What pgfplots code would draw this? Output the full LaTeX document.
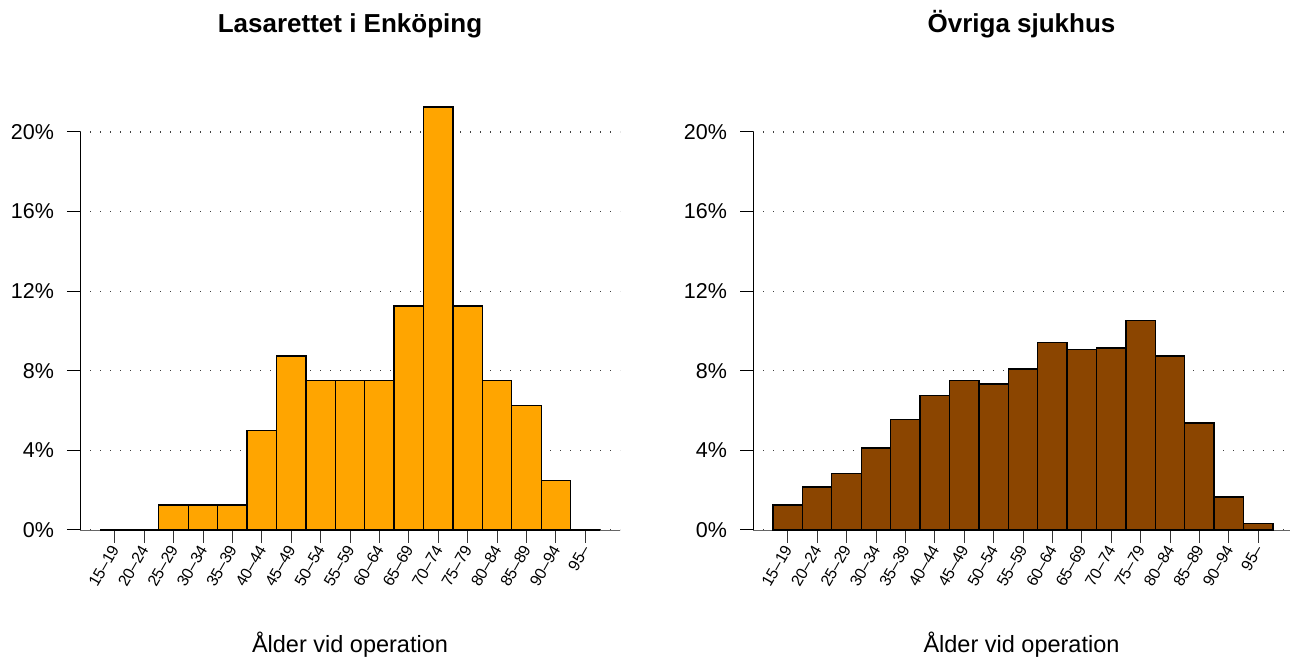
\documentclass[border=0pt]{standalone}
\usepackage{fontspec}
\setmainfont{Liberation Sans}
\usepackage{pgfplots}
\pgfplotsset{compat=1.18}
\definecolor{lorange}{HTML}{FFA500}
\definecolor{dbrown}{HTML}{8B4500}

\pgfplotsset{
 panel/.style={
  scale only axis, height=199pt, ymin=0, ymax=20,
  axis x line*=bottom, axis y line*=left,
  x axis line style={black!60, line width=0.4pt, -},
  y axis line style={black, line width=0.5pt, -},
  ytick={0,4,8,12,16,20},
  yticklabels={0\%,4\%,8\%,12\%,16\%,20\%},
  xtick={0,...,16},
  xticklabels={15–19,20–24,25–29,30–34,35–39,40–44,45–49,50–54,55–59,60–64,65–69,70–74,75–79,80–84,85–89,90–94,95–},
  tick align=outside, major tick length=6.5pt,
  ytick style={black, line width=0.5pt},
  xtick style={black!80, line width=0.4pt},
  yticklabel style={font=\fontsize{10.75}{12}\selectfont, xshift=-3pt},
  xticklabel style={font=\fontsize{8}{9}\selectfont, rotate=60, anchor=east, xshift=2pt, yshift=-1pt},
  ymajorgrids, grid style={black!75, line width=0.6pt, dash pattern=on 0.6pt off 4.4pt},
  clip=false,
  title style={font=\bfseries\fontsize{13}{15}\selectfont, at={(0.5,1)}, anchor=base, yshift=43.5pt},
  xlabel style={font=\fontsize{11.75}{14}\selectfont, at={(0.5,0)}, anchor=base, yshift=-61.5pt},
  xlabel={Ålder vid operation},
 }
}

\begin{document}
\begin{tikzpicture}
\useasboundingbox (0,0) rectangle (645pt,331.5pt);
\begin{axis}[panel, at={(40pt,66.5pt)}, anchor=south west, width=270pt,
  xmin=-1.18, xmax=17.18, title={Lasarettet i Enköping}]
\addplot[ybar, bar width=1, bar shift=0, fill=lorange, draw=black, line width=0.65pt]
 coordinates {(0,0) (1,0) (2,1.25) (3,1.25) (4,1.25) (5,5) (6,8.75) (7,7.5) (8,7.5)
 (9,7.5) (10,11.25) (11,21.25) (12,11.25) (13,7.5) (14,6.25) (15,2.5) (16,0)};
\end{axis}
\begin{axis}[panel, at={(376.5pt,66.5pt)}, anchor=south west, width=268.5pt,
  xmin=-1.18, xmax=17.08, title={Övriga sjukhus}]
\addplot[ybar, bar width=1, bar shift=0, fill=dbrown, draw=black, line width=0.65pt]
 coordinates {(0,1.26) (1,2.16) (2,2.83) (3,4.12) (4,5.56) (5,6.77) (6,7.50) (7,7.34) (8,8.09)
 (9,9.41) (10,9.06) (11,9.15) (12,10.52) (13,8.74) (14,5.38) (15,1.66) (16,0.32)};
\end{axis}
\end{tikzpicture}
\end{document}
